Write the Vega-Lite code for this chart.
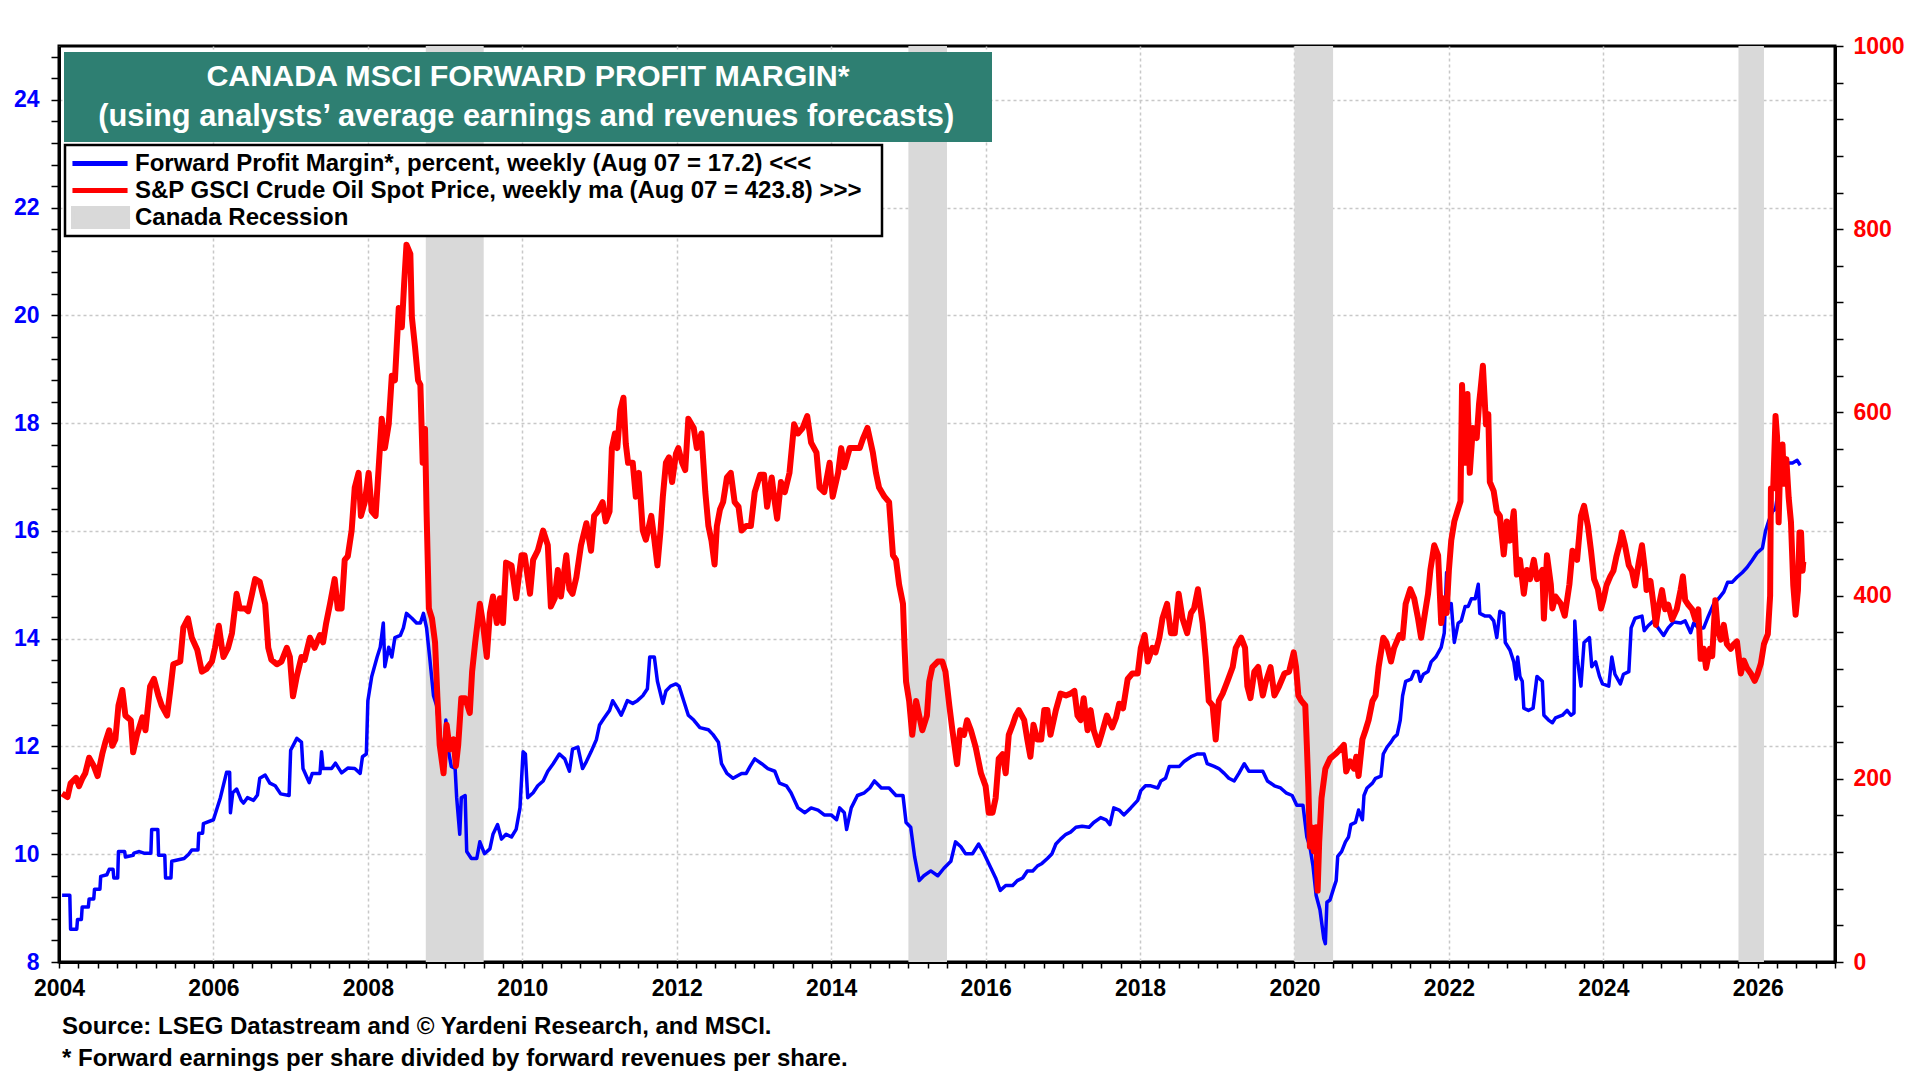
{
  "$schema": "https://vega.github.io/schema/vega-lite/v6.json",
  "width": 1776,
  "height": 916,
  "autosize": {"type": "none"},
  "padding": {"left": 59, "top": 46, "right": 85, "bottom": 118},
  "background": "white",
  "config": {
    "font": "Liberation Sans",
    "view": {"stroke": "black", "strokeWidth": 3}
  },
  "title": {
    "text": "Source: LSEG Datastream and © Yardeni Research, and MSCI.",
    "subtitle": "* Forward earnings per share divided by forward revenues per share.",
    "orient": "bottom",
    "anchor": "start",
    "frame": "group",
    "dx": 3,
    "offset": 15,
    "fontSize": 24,
    "fontWeight": "bold",
    "color": "black",
    "subtitleFontSize": 24,
    "subtitleFontWeight": "bold",
    "subtitleColor": "black",
    "subtitlePadding": 8
  },
  "datasets": {
    "rec": [
      {"t": 2008.75, "t2": 2009.5},
      {"t": 2015.0, "t2": 2015.5},
      {"t": 2020.0, "t2": 2020.5},
      {"t": 2025.75, "t2": 2026.08}
    ],
    "pm": [
      {"t": 2004.04, "v": 9.24}, {"t": 2004.14, "v": 9.24}, {"t": 2004.15, "v": 8.61}, {"t": 2004.23, "v": 8.61},
      {"t": 2004.24, "v": 8.79}, {"t": 2004.29, "v": 8.79}, {"t": 2004.30, "v": 9.02}, {"t": 2004.38, "v": 9.02},
      {"t": 2004.39, "v": 9.17}, {"t": 2004.45, "v": 9.17}, {"t": 2004.46, "v": 9.35}, {"t": 2004.53, "v": 9.35},
      {"t": 2004.54, "v": 9.59}, {"t": 2004.62, "v": 9.62}, {"t": 2004.65, "v": 9.72}, {"t": 2004.70, "v": 9.72},
      {"t": 2004.71, "v": 9.56}, {"t": 2004.76, "v": 9.56}, {"t": 2004.77, "v": 10.05}, {"t": 2004.85, "v": 10.05},
      {"t": 2004.86, "v": 9.95}, {"t": 2004.96, "v": 9.98}, {"t": 2004.97, "v": 10.02}, {"t": 2005.04, "v": 10.05},
      {"t": 2005.10, "v": 10.02}, {"t": 2005.19, "v": 10.02}, {"t": 2005.20, "v": 10.46}, {"t": 2005.28, "v": 10.46},
      {"t": 2005.29, "v": 9.98}, {"t": 2005.37, "v": 9.98}, {"t": 2005.38, "v": 9.56}, {"t": 2005.45, "v": 9.56},
      {"t": 2005.46, "v": 9.87}, {"t": 2005.62, "v": 9.92}, {"t": 2005.68, "v": 10.0}, {"t": 2005.72, "v": 10.08},
      {"t": 2005.80, "v": 10.08}, {"t": 2005.81, "v": 10.39}, {"t": 2005.86, "v": 10.39}, {"t": 2005.87, "v": 10.57},
      {"t": 2006.0, "v": 10.64}, {"t": 2006.09, "v": 11.05}, {"t": 2006.17, "v": 11.52}, {"t": 2006.21, "v": 11.52},
      {"t": 2006.22, "v": 10.77}, {"t": 2006.25, "v": 11.14}, {"t": 2006.30, "v": 11.21}, {"t": 2006.36, "v": 11.0},
      {"t": 2006.39, "v": 10.95}, {"t": 2006.44, "v": 11.05}, {"t": 2006.52, "v": 11.0}, {"t": 2006.57, "v": 11.1},
      {"t": 2006.60, "v": 11.41}, {"t": 2006.67, "v": 11.47}, {"t": 2006.73, "v": 11.32}, {"t": 2006.80, "v": 11.27},
      {"t": 2006.87, "v": 11.12}, {"t": 2006.98, "v": 11.09}, {"t": 2007.0, "v": 11.93}, {"t": 2007.08, "v": 12.15},
      {"t": 2007.14, "v": 12.08}, {"t": 2007.16, "v": 11.59}, {"t": 2007.24, "v": 11.33}, {"t": 2007.28, "v": 11.5},
      {"t": 2007.38, "v": 11.5}, {"t": 2007.40, "v": 11.9}, {"t": 2007.42, "v": 11.59}, {"t": 2007.53, "v": 11.59},
      {"t": 2007.58, "v": 11.69}, {"t": 2007.66, "v": 11.51}, {"t": 2007.74, "v": 11.6}, {"t": 2007.83, "v": 11.59},
      {"t": 2007.90, "v": 11.5}, {"t": 2007.93, "v": 11.81}, {"t": 2007.98, "v": 11.86},
      {"t": 2008.0, "v": 12.85}, {"t": 2008.05, "v": 13.30}, {"t": 2008.12, "v": 13.66}, {"t": 2008.16, "v": 13.84},
      {"t": 2008.2, "v": 14.29}, {"t": 2008.22, "v": 13.48}, {"t": 2008.27, "v": 13.84}, {"t": 2008.31, "v": 13.66},
      {"t": 2008.35, "v": 14.02}, {"t": 2008.42, "v": 14.06}, {"t": 2008.46, "v": 14.20}, {"t": 2008.5, "v": 14.47},
      {"t": 2008.57, "v": 14.38}, {"t": 2008.63, "v": 14.29}, {"t": 2008.68, "v": 14.29}, {"t": 2008.72, "v": 14.47},
      {"t": 2008.76, "v": 14.20}, {"t": 2008.80, "v": 13.66}, {"t": 2008.85, "v": 12.94}, {"t": 2008.89, "v": 12.76},
      {"t": 2008.93, "v": 12.22}, {"t": 2008.98, "v": 11.86}, {"t": 2009.01, "v": 12.49}, {"t": 2009.04, "v": 11.95},
      {"t": 2009.08, "v": 11.63}, {"t": 2009.13, "v": 11.59}, {"t": 2009.15, "v": 11.05}, {"t": 2009.19, "v": 10.37},
      {"t": 2009.21, "v": 11.05}, {"t": 2009.26, "v": 11.09}, {"t": 2009.28, "v": 10.05}, {"t": 2009.34, "v": 9.92},
      {"t": 2009.41, "v": 9.92}, {"t": 2009.45, "v": 10.23}, {"t": 2009.51, "v": 10.01}, {"t": 2009.58, "v": 10.10},
      {"t": 2009.62, "v": 10.37}, {"t": 2009.68, "v": 10.55}, {"t": 2009.73, "v": 10.28}, {"t": 2009.79, "v": 10.37},
      {"t": 2009.86, "v": 10.32}, {"t": 2009.92, "v": 10.46}, {"t": 2009.97, "v": 10.86}, {"t": 2010.01, "v": 11.9},
      {"t": 2010.04, "v": 11.86}, {"t": 2010.07, "v": 11.05}, {"t": 2010.14, "v": 11.14}, {"t": 2010.20, "v": 11.27},
      {"t": 2010.27, "v": 11.36}, {"t": 2010.33, "v": 11.54}, {"t": 2010.40, "v": 11.68}, {"t": 2010.48, "v": 11.86},
      {"t": 2010.55, "v": 11.77}, {"t": 2010.61, "v": 11.54}, {"t": 2010.65, "v": 11.95}, {"t": 2010.72, "v": 11.99},
      {"t": 2010.78, "v": 11.59}, {"t": 2010.83, "v": 11.72}, {"t": 2010.89, "v": 11.90}, {"t": 2010.96, "v": 12.13},
      {"t": 2011.0, "v": 12.40}, {"t": 2011.06, "v": 12.53}, {"t": 2011.13, "v": 12.67}, {"t": 2011.17, "v": 12.85},
      {"t": 2011.23, "v": 12.71}, {"t": 2011.28, "v": 12.58}, {"t": 2011.32, "v": 12.71}, {"t": 2011.36, "v": 12.85},
      {"t": 2011.43, "v": 12.80}, {"t": 2011.49, "v": 12.85}, {"t": 2011.56, "v": 12.94}, {"t": 2011.62, "v": 13.07},
      {"t": 2011.65, "v": 13.66}, {"t": 2011.71, "v": 13.66}, {"t": 2011.75, "v": 13.21}, {"t": 2011.82, "v": 12.80},
      {"t": 2011.86, "v": 13.03}, {"t": 2011.92, "v": 13.12}, {"t": 2011.99, "v": 13.16},
      {"t": 2012.03, "v": 13.12}, {"t": 2012.09, "v": 12.85}, {"t": 2012.15, "v": 12.58}, {"t": 2012.22, "v": 12.49},
      {"t": 2012.30, "v": 12.35}, {"t": 2012.41, "v": 12.31}, {"t": 2012.47, "v": 12.22}, {"t": 2012.54, "v": 12.08},
      {"t": 2012.58, "v": 11.68}, {"t": 2012.65, "v": 11.50}, {"t": 2012.73, "v": 11.41}, {"t": 2012.84, "v": 11.50},
      {"t": 2012.90, "v": 11.50}, {"t": 2012.95, "v": 11.63}, {"t": 2013.01, "v": 11.77}, {"t": 2013.10, "v": 11.68},
      {"t": 2013.18, "v": 11.59}, {"t": 2013.27, "v": 11.54}, {"t": 2013.33, "v": 11.32}, {"t": 2013.42, "v": 11.27},
      {"t": 2013.48, "v": 11.14}, {"t": 2013.57, "v": 10.86}, {"t": 2013.66, "v": 10.77}, {"t": 2013.74, "v": 10.86},
      {"t": 2013.83, "v": 10.82}, {"t": 2013.91, "v": 10.73}, {"t": 2014.0, "v": 10.73}, {"t": 2014.07, "v": 10.64},
      {"t": 2014.11, "v": 10.86}, {"t": 2014.17, "v": 10.77}, {"t": 2014.2, "v": 10.46}, {"t": 2014.26, "v": 10.86},
      {"t": 2014.34, "v": 11.09}, {"t": 2014.43, "v": 11.14}, {"t": 2014.50, "v": 11.23}, {"t": 2014.56, "v": 11.36},
      {"t": 2014.65, "v": 11.23}, {"t": 2014.75, "v": 11.23}, {"t": 2014.84, "v": 11.09}, {"t": 2014.93, "v": 11.09},
      {"t": 2014.97, "v": 10.59}, {"t": 2015.03, "v": 10.50}, {"t": 2015.08, "v": 9.96}, {"t": 2015.14, "v": 9.51},
      {"t": 2015.20, "v": 9.60}, {"t": 2015.29, "v": 9.69}, {"t": 2015.38, "v": 9.60}, {"t": 2015.46, "v": 9.74},
      {"t": 2015.55, "v": 9.87}, {"t": 2015.61, "v": 10.23}, {"t": 2015.68, "v": 10.14}, {"t": 2015.74, "v": 10.01},
      {"t": 2015.83, "v": 10.01}, {"t": 2015.91, "v": 10.19}, {"t": 2015.98, "v": 10.01},
      {"t": 2016.07, "v": 9.74}, {"t": 2016.13, "v": 9.56}, {"t": 2016.19, "v": 9.33}, {"t": 2016.26, "v": 9.42},
      {"t": 2016.35, "v": 9.42}, {"t": 2016.41, "v": 9.51}, {"t": 2016.48, "v": 9.56}, {"t": 2016.54, "v": 9.69},
      {"t": 2016.61, "v": 9.69}, {"t": 2016.67, "v": 9.78}, {"t": 2016.73, "v": 9.83}, {"t": 2016.80, "v": 9.92},
      {"t": 2016.86, "v": 10.01}, {"t": 2016.91, "v": 10.19}, {"t": 2016.97, "v": 10.28}, {"t": 2017.04, "v": 10.37},
      {"t": 2017.10, "v": 10.41}, {"t": 2017.17, "v": 10.50}, {"t": 2017.25, "v": 10.52}, {"t": 2017.34, "v": 10.50},
      {"t": 2017.40, "v": 10.59}, {"t": 2017.49, "v": 10.68}, {"t": 2017.56, "v": 10.64}, {"t": 2017.61, "v": 10.55},
      {"t": 2017.66, "v": 10.86}, {"t": 2017.73, "v": 10.82}, {"t": 2017.79, "v": 10.73}, {"t": 2017.88, "v": 10.86},
      {"t": 2017.97, "v": 11.0}, {"t": 2018.01, "v": 11.18}, {"t": 2018.07, "v": 11.27}, {"t": 2018.14, "v": 11.27},
      {"t": 2018.23, "v": 11.23}, {"t": 2018.27, "v": 11.36}, {"t": 2018.33, "v": 11.41}, {"t": 2018.38, "v": 11.63},
      {"t": 2018.44, "v": 11.63}, {"t": 2018.51, "v": 11.63}, {"t": 2018.57, "v": 11.72}, {"t": 2018.66, "v": 11.81},
      {"t": 2018.74, "v": 11.86}, {"t": 2018.83, "v": 11.86}, {"t": 2018.87, "v": 11.68}, {"t": 2018.96, "v": 11.63},
      {"t": 2019.02, "v": 11.59}, {"t": 2019.09, "v": 11.50}, {"t": 2019.15, "v": 11.41}, {"t": 2019.22, "v": 11.36},
      {"t": 2019.28, "v": 11.50}, {"t": 2019.35, "v": 11.68}, {"t": 2019.41, "v": 11.54}, {"t": 2019.48, "v": 11.54},
      {"t": 2019.59, "v": 11.54}, {"t": 2019.65, "v": 11.36}, {"t": 2019.74, "v": 11.27}, {"t": 2019.82, "v": 11.23},
      {"t": 2019.89, "v": 11.14}, {"t": 2019.97, "v": 11.09},
      {"t": 2020.03, "v": 10.91}, {"t": 2020.11, "v": 10.91}, {"t": 2020.16, "v": 10.32}, {"t": 2020.20, "v": 10.14},
      {"t": 2020.24, "v": 9.78}, {"t": 2020.28, "v": 9.24}, {"t": 2020.33, "v": 8.97}, {"t": 2020.38, "v": 8.43},
      {"t": 2020.40, "v": 8.34}, {"t": 2020.42, "v": 9.11}, {"t": 2020.46, "v": 9.15}, {"t": 2020.51, "v": 9.38},
      {"t": 2020.54, "v": 9.51}, {"t": 2020.56, "v": 9.96}, {"t": 2020.61, "v": 10.05}, {"t": 2020.66, "v": 10.23},
      {"t": 2020.70, "v": 10.32}, {"t": 2020.73, "v": 10.55}, {"t": 2020.79, "v": 10.59}, {"t": 2020.83, "v": 10.82},
      {"t": 2020.88, "v": 10.64}, {"t": 2020.90, "v": 11.09}, {"t": 2020.94, "v": 11.23}, {"t": 2021.01, "v": 11.32},
      {"t": 2021.05, "v": 11.41}, {"t": 2021.12, "v": 11.45}, {"t": 2021.15, "v": 11.86}, {"t": 2021.20, "v": 11.99},
      {"t": 2021.25, "v": 12.08}, {"t": 2021.29, "v": 12.17}, {"t": 2021.33, "v": 12.22}, {"t": 2021.37, "v": 12.49},
      {"t": 2021.40, "v": 12.94}, {"t": 2021.44, "v": 13.21}, {"t": 2021.51, "v": 13.25}, {"t": 2021.55, "v": 13.39},
      {"t": 2021.60, "v": 13.39}, {"t": 2021.63, "v": 13.21}, {"t": 2021.67, "v": 13.34}, {"t": 2021.73, "v": 13.39},
      {"t": 2021.77, "v": 13.57}, {"t": 2021.83, "v": 13.66}, {"t": 2021.90, "v": 13.84}, {"t": 2021.94, "v": 14.11},
      {"t": 2021.97, "v": 15.23}, {"t": 2022.0, "v": 14.56}, {"t": 2022.03, "v": 14.65}, {"t": 2022.07, "v": 13.93},
      {"t": 2022.12, "v": 14.29}, {"t": 2022.16, "v": 14.33}, {"t": 2022.21, "v": 14.60}, {"t": 2022.25, "v": 14.60},
      {"t": 2022.29, "v": 14.74}, {"t": 2022.34, "v": 14.74}, {"t": 2022.38, "v": 15.01}, {"t": 2022.40, "v": 14.47},
      {"t": 2022.47, "v": 14.42}, {"t": 2022.53, "v": 14.42}, {"t": 2022.58, "v": 14.33}, {"t": 2022.62, "v": 14.02},
      {"t": 2022.66, "v": 14.51}, {"t": 2022.71, "v": 14.47}, {"t": 2022.73, "v": 13.93}, {"t": 2022.79, "v": 13.79},
      {"t": 2022.84, "v": 13.57}, {"t": 2022.87, "v": 13.25}, {"t": 2022.89, "v": 13.66}, {"t": 2022.92, "v": 13.30},
      {"t": 2022.95, "v": 13.21}, {"t": 2022.97, "v": 12.71}, {"t": 2023.03, "v": 12.67}, {"t": 2023.09, "v": 12.71},
      {"t": 2023.14, "v": 13.30}, {"t": 2023.21, "v": 13.21}, {"t": 2023.23, "v": 12.58}, {"t": 2023.29, "v": 12.49},
      {"t": 2023.34, "v": 12.44}, {"t": 2023.38, "v": 12.53}, {"t": 2023.47, "v": 12.58}, {"t": 2023.53, "v": 12.67},
      {"t": 2023.58, "v": 12.58}, {"t": 2023.62, "v": 12.62}, {"t": 2023.63, "v": 14.33}, {"t": 2023.66, "v": 13.66},
      {"t": 2023.71, "v": 13.12}, {"t": 2023.75, "v": 13.93}, {"t": 2023.82, "v": 14.02}, {"t": 2023.85, "v": 13.48},
      {"t": 2023.90, "v": 13.57}, {"t": 2023.95, "v": 13.30}, {"t": 2023.99, "v": 13.16},
      {"t": 2024.07, "v": 13.12}, {"t": 2024.11, "v": 13.66}, {"t": 2024.15, "v": 13.34}, {"t": 2024.22, "v": 13.16},
      {"t": 2024.26, "v": 13.34}, {"t": 2024.33, "v": 13.39}, {"t": 2024.36, "v": 14.2}, {"t": 2024.41, "v": 14.38},
      {"t": 2024.5, "v": 14.42}, {"t": 2024.53, "v": 14.15}, {"t": 2024.58, "v": 14.24}, {"t": 2024.65, "v": 14.33},
      {"t": 2024.71, "v": 14.2}, {"t": 2024.78, "v": 14.06}, {"t": 2024.84, "v": 14.2}, {"t": 2024.91, "v": 14.31},
      {"t": 2025.0, "v": 14.29}, {"t": 2025.06, "v": 14.33}, {"t": 2025.13, "v": 14.11}, {"t": 2025.17, "v": 14.29},
      {"t": 2025.23, "v": 14.2}, {"t": 2025.3, "v": 14.2}, {"t": 2025.36, "v": 14.42}, {"t": 2025.43, "v": 14.65},
      {"t": 2025.49, "v": 14.74}, {"t": 2025.56, "v": 14.87}, {"t": 2025.61, "v": 15.05}, {"t": 2025.67, "v": 15.05},
      {"t": 2025.73, "v": 15.14}, {"t": 2025.8, "v": 15.23}, {"t": 2025.86, "v": 15.32}, {"t": 2025.93, "v": 15.46},
      {"t": 2025.99, "v": 15.59}, {"t": 2026.06, "v": 15.68}, {"t": 2026.1, "v": 16.0}, {"t": 2026.14, "v": 16.18},
      {"t": 2026.19, "v": 16.36}, {"t": 2026.23, "v": 16.41}, {"t": 2026.27, "v": 16.81}, {"t": 2026.34, "v": 17.08},
      {"t": 2026.38, "v": 17.26}, {"t": 2026.45, "v": 17.26}, {"t": 2026.51, "v": 17.31}, {"t": 2026.55, "v": 17.22}
    ],
    "oil": [
      {"t": 2004.04, "v": 184}, {"t": 2004.11, "v": 180}, {"t": 2004.15, "v": 195}, {"t": 2004.22, "v": 201},
      {"t": 2004.26, "v": 192}, {"t": 2004.30, "v": 200}, {"t": 2004.34, "v": 206}, {"t": 2004.39, "v": 223},
      {"t": 2004.45, "v": 214}, {"t": 2004.50, "v": 203}, {"t": 2004.56, "v": 227}, {"t": 2004.60, "v": 240},
      {"t": 2004.65, "v": 253}, {"t": 2004.69, "v": 236}, {"t": 2004.73, "v": 243}, {"t": 2004.77, "v": 280},
      {"t": 2004.82, "v": 297}, {"t": 2004.86, "v": 269}, {"t": 2004.93, "v": 264}, {"t": 2004.96, "v": 229},
      {"t": 2005.01, "v": 248}, {"t": 2005.08, "v": 267}, {"t": 2005.12, "v": 253}, {"t": 2005.18, "v": 301},
      {"t": 2005.23, "v": 309}, {"t": 2005.29, "v": 290}, {"t": 2005.33, "v": 280}, {"t": 2005.40, "v": 269},
      {"t": 2005.44, "v": 296}, {"t": 2005.48, "v": 325}, {"t": 2005.57, "v": 328}, {"t": 2005.61, "v": 365},
      {"t": 2005.67, "v": 375}, {"t": 2005.72, "v": 354}, {"t": 2005.79, "v": 341}, {"t": 2005.85, "v": 317},
      {"t": 2005.91, "v": 320}, {"t": 2005.98, "v": 328}, {"t": 2006.02, "v": 343}, {"t": 2006.07, "v": 367},
      {"t": 2006.11, "v": 343}, {"t": 2006.13, "v": 333}, {"t": 2006.19, "v": 343}, {"t": 2006.24, "v": 359},
      {"t": 2006.30, "v": 402}, {"t": 2006.34, "v": 386}, {"t": 2006.41, "v": 386}, {"t": 2006.45, "v": 383},
      {"t": 2006.50, "v": 402}, {"t": 2006.54, "v": 418}, {"t": 2006.60, "v": 415}, {"t": 2006.67, "v": 391},
      {"t": 2006.71, "v": 343}, {"t": 2006.75, "v": 330}, {"t": 2006.82, "v": 325}, {"t": 2006.88, "v": 328},
      {"t": 2006.95, "v": 343}, {"t": 2006.99, "v": 333}, {"t": 2007.03, "v": 290}, {"t": 2007.08, "v": 312},
      {"t": 2007.14, "v": 333}, {"t": 2007.18, "v": 330}, {"t": 2007.25, "v": 354}, {"t": 2007.31, "v": 343},
      {"t": 2007.38, "v": 357}, {"t": 2007.42, "v": 349}, {"t": 2007.46, "v": 370}, {"t": 2007.51, "v": 391},
      {"t": 2007.57, "v": 418}, {"t": 2007.61, "v": 386}, {"t": 2007.66, "v": 386}, {"t": 2007.70, "v": 439},
      {"t": 2007.74, "v": 443}, {"t": 2007.79, "v": 471}, {"t": 2007.83, "v": 518}, {"t": 2007.88, "v": 534},
      {"t": 2007.91, "v": 487}, {"t": 2007.96, "v": 502},
      {"t": 2008.01, "v": 534}, {"t": 2008.05, "v": 492}, {"t": 2008.10, "v": 487}, {"t": 2008.14, "v": 540},
      {"t": 2008.18, "v": 593}, {"t": 2008.22, "v": 561}, {"t": 2008.27, "v": 587}, {"t": 2008.31, "v": 640},
      {"t": 2008.35, "v": 635}, {"t": 2008.40, "v": 714}, {"t": 2008.44, "v": 693}, {"t": 2008.47, "v": 741},
      {"t": 2008.50, "v": 783}, {"t": 2008.55, "v": 773}, {"t": 2008.57, "v": 704}, {"t": 2008.61, "v": 672},
      {"t": 2008.65, "v": 635}, {"t": 2008.68, "v": 630}, {"t": 2008.71, "v": 545}, {"t": 2008.74, "v": 582},
      {"t": 2008.76, "v": 492}, {"t": 2008.79, "v": 386}, {"t": 2008.83, "v": 375}, {"t": 2008.87, "v": 349},
      {"t": 2008.90, "v": 290}, {"t": 2008.93, "v": 237}, {"t": 2008.98, "v": 206}, {"t": 2009.02, "v": 259},
      {"t": 2009.06, "v": 232}, {"t": 2009.11, "v": 243}, {"t": 2009.14, "v": 214}, {"t": 2009.17, "v": 237},
      {"t": 2009.21, "v": 288}, {"t": 2009.26, "v": 288}, {"t": 2009.32, "v": 272}, {"t": 2009.35, "v": 317},
      {"t": 2009.39, "v": 349}, {"t": 2009.45, "v": 391}, {"t": 2009.49, "v": 370}, {"t": 2009.54, "v": 333},
      {"t": 2009.58, "v": 381}, {"t": 2009.62, "v": 399}, {"t": 2009.67, "v": 370}, {"t": 2009.71, "v": 397},
      {"t": 2009.75, "v": 370}, {"t": 2009.79, "v": 436}, {"t": 2009.86, "v": 433}, {"t": 2009.92, "v": 397},
      {"t": 2009.99, "v": 444}, {"t": 2010.03, "v": 444}, {"t": 2010.10, "v": 402}, {"t": 2010.14, "v": 439},
      {"t": 2010.20, "v": 449}, {"t": 2010.27, "v": 471}, {"t": 2010.33, "v": 455}, {"t": 2010.37, "v": 388},
      {"t": 2010.42, "v": 397}, {"t": 2010.46, "v": 428}, {"t": 2010.50, "v": 399}, {"t": 2010.57, "v": 444},
      {"t": 2010.61, "v": 407}, {"t": 2010.65, "v": 402}, {"t": 2010.70, "v": 420}, {"t": 2010.76, "v": 455},
      {"t": 2010.83, "v": 479}, {"t": 2010.89, "v": 449}, {"t": 2010.93, "v": 487}, {"t": 2010.98, "v": 492},
      {"t": 2011.04, "v": 502}, {"t": 2011.08, "v": 481}, {"t": 2011.13, "v": 492}, {"t": 2011.16, "v": 561},
      {"t": 2011.20, "v": 577}, {"t": 2011.23, "v": 561}, {"t": 2011.27, "v": 603}, {"t": 2011.31, "v": 616},
      {"t": 2011.34, "v": 566}, {"t": 2011.37, "v": 545}, {"t": 2011.43, "v": 545}, {"t": 2011.47, "v": 508},
      {"t": 2011.51, "v": 534}, {"t": 2011.56, "v": 471}, {"t": 2011.60, "v": 461}, {"t": 2011.67, "v": 487},
      {"t": 2011.71, "v": 461}, {"t": 2011.75, "v": 433}, {"t": 2011.79, "v": 471}, {"t": 2011.82, "v": 508},
      {"t": 2011.86, "v": 545}, {"t": 2011.90, "v": 551}, {"t": 2011.94, "v": 524}, {"t": 2011.99, "v": 555},
      {"t": 2012.02, "v": 561}, {"t": 2012.07, "v": 545}, {"t": 2012.11, "v": 537}, {"t": 2012.15, "v": 593},
      {"t": 2012.22, "v": 583}, {"t": 2012.26, "v": 561}, {"t": 2012.32, "v": 577}, {"t": 2012.37, "v": 513},
      {"t": 2012.41, "v": 476}, {"t": 2012.45, "v": 460}, {"t": 2012.49, "v": 434}, {"t": 2012.52, "v": 476},
      {"t": 2012.56, "v": 494}, {"t": 2012.60, "v": 502}, {"t": 2012.65, "v": 529}, {"t": 2012.70, "v": 534},
      {"t": 2012.75, "v": 502}, {"t": 2012.80, "v": 497}, {"t": 2012.84, "v": 471}, {"t": 2012.90, "v": 476},
      {"t": 2012.96, "v": 476}, {"t": 2013.01, "v": 513}, {"t": 2013.08, "v": 532}, {"t": 2013.13, "v": 532},
      {"t": 2013.17, "v": 497}, {"t": 2013.23, "v": 529}, {"t": 2013.27, "v": 502}, {"t": 2013.30, "v": 484},
      {"t": 2013.35, "v": 524}, {"t": 2013.40, "v": 513}, {"t": 2013.46, "v": 534}, {"t": 2013.52, "v": 587},
      {"t": 2013.57, "v": 577}, {"t": 2013.63, "v": 583}, {"t": 2013.69, "v": 596}, {"t": 2013.74, "v": 567},
      {"t": 2013.81, "v": 556}, {"t": 2013.85, "v": 518}, {"t": 2013.91, "v": 513}, {"t": 2013.98, "v": 545},
      {"t": 2014.02, "v": 508}, {"t": 2014.09, "v": 534}, {"t": 2014.13, "v": 561}, {"t": 2014.17, "v": 540},
      {"t": 2014.24, "v": 561}, {"t": 2014.30, "v": 561}, {"t": 2014.37, "v": 561}, {"t": 2014.41, "v": 571},
      {"t": 2014.47, "v": 583}, {"t": 2014.54, "v": 556}, {"t": 2014.58, "v": 534}, {"t": 2014.62, "v": 518},
      {"t": 2014.69, "v": 508}, {"t": 2014.75, "v": 502}, {"t": 2014.80, "v": 444}, {"t": 2014.84, "v": 439},
      {"t": 2014.88, "v": 412}, {"t": 2014.93, "v": 391}, {"t": 2014.95, "v": 344}, {"t": 2014.97, "v": 306},
      {"t": 2015.01, "v": 285}, {"t": 2015.05, "v": 248}, {"t": 2015.10, "v": 285}, {"t": 2015.14, "v": 269},
      {"t": 2015.18, "v": 253}, {"t": 2015.24, "v": 269}, {"t": 2015.27, "v": 306}, {"t": 2015.31, "v": 322},
      {"t": 2015.38, "v": 328}, {"t": 2015.44, "v": 328}, {"t": 2015.48, "v": 317}, {"t": 2015.53, "v": 280},
      {"t": 2015.57, "v": 253}, {"t": 2015.63, "v": 216}, {"t": 2015.67, "v": 253}, {"t": 2015.72, "v": 248},
      {"t": 2015.76, "v": 264}, {"t": 2015.81, "v": 253}, {"t": 2015.87, "v": 235}, {"t": 2015.94, "v": 206},
      {"t": 2016.0, "v": 192}, {"t": 2016.04, "v": 163}, {"t": 2016.09, "v": 163}, {"t": 2016.13, "v": 179},
      {"t": 2016.17, "v": 222}, {"t": 2016.22, "v": 227}, {"t": 2016.26, "v": 206}, {"t": 2016.30, "v": 248},
      {"t": 2016.35, "v": 259}, {"t": 2016.39, "v": 269}, {"t": 2016.43, "v": 275}, {"t": 2016.50, "v": 264},
      {"t": 2016.54, "v": 243}, {"t": 2016.58, "v": 224}, {"t": 2016.62, "v": 259}, {"t": 2016.67, "v": 243},
      {"t": 2016.72, "v": 243}, {"t": 2016.76, "v": 275}, {"t": 2016.80, "v": 275}, {"t": 2016.84, "v": 248},
      {"t": 2016.91, "v": 275}, {"t": 2016.97, "v": 293}, {"t": 2017.04, "v": 291}, {"t": 2017.10, "v": 293},
      {"t": 2017.15, "v": 296}, {"t": 2017.19, "v": 269}, {"t": 2017.23, "v": 264}, {"t": 2017.27, "v": 288},
      {"t": 2017.32, "v": 253}, {"t": 2017.36, "v": 275}, {"t": 2017.40, "v": 253}, {"t": 2017.46, "v": 237},
      {"t": 2017.51, "v": 251}, {"t": 2017.57, "v": 269}, {"t": 2017.64, "v": 256}, {"t": 2017.69, "v": 267},
      {"t": 2017.73, "v": 282}, {"t": 2017.78, "v": 277}, {"t": 2017.84, "v": 309}, {"t": 2017.90, "v": 315},
      {"t": 2017.97, "v": 315}, {"t": 2018.01, "v": 343}, {"t": 2018.06, "v": 357}, {"t": 2018.10, "v": 328},
      {"t": 2018.16, "v": 343}, {"t": 2018.20, "v": 338}, {"t": 2018.25, "v": 354}, {"t": 2018.29, "v": 375},
      {"t": 2018.35, "v": 391}, {"t": 2018.40, "v": 359}, {"t": 2018.45, "v": 359}, {"t": 2018.50, "v": 402},
      {"t": 2018.55, "v": 375}, {"t": 2018.61, "v": 359}, {"t": 2018.66, "v": 381}, {"t": 2018.70, "v": 386},
      {"t": 2018.75, "v": 407}, {"t": 2018.81, "v": 370}, {"t": 2018.85, "v": 333}, {"t": 2018.89, "v": 285},
      {"t": 2018.94, "v": 280}, {"t": 2018.98, "v": 243}, {"t": 2019.02, "v": 285}, {"t": 2019.07, "v": 293},
      {"t": 2019.13, "v": 306}, {"t": 2019.20, "v": 322}, {"t": 2019.24, "v": 343}, {"t": 2019.31, "v": 354},
      {"t": 2019.36, "v": 343}, {"t": 2019.39, "v": 301}, {"t": 2019.43, "v": 288}, {"t": 2019.48, "v": 317},
      {"t": 2019.53, "v": 322}, {"t": 2019.59, "v": 291}, {"t": 2019.63, "v": 306}, {"t": 2019.69, "v": 322},
      {"t": 2019.74, "v": 291}, {"t": 2019.80, "v": 301}, {"t": 2019.87, "v": 315}, {"t": 2019.93, "v": 317},
      {"t": 2019.99, "v": 338}, {"t": 2020.02, "v": 322}, {"t": 2020.05, "v": 291}, {"t": 2020.09, "v": 285},
      {"t": 2020.14, "v": 280}, {"t": 2020.16, "v": 237}, {"t": 2020.18, "v": 190}, {"t": 2020.20, "v": 126},
      {"t": 2020.22, "v": 147}, {"t": 2020.25, "v": 121}, {"t": 2020.28, "v": 147}, {"t": 2020.30, "v": 78},
      {"t": 2020.32, "v": 131}, {"t": 2020.35, "v": 179}, {"t": 2020.40, "v": 211}, {"t": 2020.46, "v": 222},
      {"t": 2020.53, "v": 227}, {"t": 2020.59, "v": 232}, {"t": 2020.64, "v": 237}, {"t": 2020.67, "v": 208},
      {"t": 2020.72, "v": 219}, {"t": 2020.77, "v": 211}, {"t": 2020.80, "v": 224}, {"t": 2020.83, "v": 203},
      {"t": 2020.88, "v": 243}, {"t": 2020.92, "v": 253}, {"t": 2020.96, "v": 264}, {"t": 2021.01, "v": 285},
      {"t": 2021.05, "v": 291}, {"t": 2021.09, "v": 322}, {"t": 2021.15, "v": 354}, {"t": 2021.19, "v": 349},
      {"t": 2021.25, "v": 328}, {"t": 2021.29, "v": 343}, {"t": 2021.36, "v": 357}, {"t": 2021.40, "v": 354},
      {"t": 2021.44, "v": 391}, {"t": 2021.50, "v": 407}, {"t": 2021.55, "v": 397}, {"t": 2021.60, "v": 375},
      {"t": 2021.64, "v": 354}, {"t": 2021.69, "v": 381}, {"t": 2021.73, "v": 402}, {"t": 2021.76, "v": 428},
      {"t": 2021.81, "v": 455}, {"t": 2021.86, "v": 444}, {"t": 2021.90, "v": 370}, {"t": 2021.94, "v": 397},
      {"t": 2021.97, "v": 381}, {"t": 2022.0, "v": 428}, {"t": 2022.03, "v": 460}, {"t": 2022.07, "v": 481},
      {"t": 2022.12, "v": 495}, {"t": 2022.15, "v": 503}, {"t": 2022.17, "v": 630}, {"t": 2022.21, "v": 545},
      {"t": 2022.24, "v": 620}, {"t": 2022.27, "v": 534}, {"t": 2022.31, "v": 583}, {"t": 2022.36, "v": 572},
      {"t": 2022.39, "v": 609}, {"t": 2022.41, "v": 625}, {"t": 2022.44, "v": 651}, {"t": 2022.48, "v": 587},
      {"t": 2022.51, "v": 598}, {"t": 2022.53, "v": 524}, {"t": 2022.58, "v": 514}, {"t": 2022.62, "v": 492},
      {"t": 2022.66, "v": 487}, {"t": 2022.71, "v": 445}, {"t": 2022.75, "v": 481}, {"t": 2022.79, "v": 460},
      {"t": 2022.84, "v": 492}, {"t": 2022.88, "v": 423}, {"t": 2022.92, "v": 439}, {"t": 2022.97, "v": 402},
      {"t": 2023.01, "v": 428}, {"t": 2023.05, "v": 418}, {"t": 2023.10, "v": 439}, {"t": 2023.14, "v": 418},
      {"t": 2023.21, "v": 428}, {"t": 2023.23, "v": 375}, {"t": 2023.27, "v": 444}, {"t": 2023.32, "v": 412},
      {"t": 2023.34, "v": 386}, {"t": 2023.38, "v": 399}, {"t": 2023.45, "v": 391}, {"t": 2023.50, "v": 378},
      {"t": 2023.56, "v": 412}, {"t": 2023.60, "v": 449}, {"t": 2023.66, "v": 439}, {"t": 2023.71, "v": 487},
      {"t": 2023.75, "v": 498}, {"t": 2023.80, "v": 476}, {"t": 2023.84, "v": 449}, {"t": 2023.88, "v": 418},
      {"t": 2023.93, "v": 407}, {"t": 2023.97, "v": 386}, {"t": 2024.0, "v": 395}, {"t": 2024.04, "v": 411},
      {"t": 2024.09, "v": 421}, {"t": 2024.13, "v": 427}, {"t": 2024.17, "v": 443}, {"t": 2024.22, "v": 459},
      {"t": 2024.24, "v": 469}, {"t": 2024.28, "v": 455}, {"t": 2024.33, "v": 433}, {"t": 2024.37, "v": 427},
      {"t": 2024.41, "v": 411}, {"t": 2024.46, "v": 437}, {"t": 2024.50, "v": 455}, {"t": 2024.54, "v": 427},
      {"t": 2024.56, "v": 406}, {"t": 2024.61, "v": 416}, {"t": 2024.65, "v": 390}, {"t": 2024.68, "v": 368},
      {"t": 2024.71, "v": 385}, {"t": 2024.76, "v": 406}, {"t": 2024.80, "v": 385}, {"t": 2024.84, "v": 390},
      {"t": 2024.89, "v": 374}, {"t": 2024.95, "v": 385}, {"t": 2025.0, "v": 406}, {"t": 2025.03, "v": 421},
      {"t": 2025.06, "v": 395}, {"t": 2025.10, "v": 390}, {"t": 2025.15, "v": 385}, {"t": 2025.19, "v": 374},
      {"t": 2025.23, "v": 385}, {"t": 2025.26, "v": 331}, {"t": 2025.30, "v": 342}, {"t": 2025.33, "v": 321},
      {"t": 2025.38, "v": 342}, {"t": 2025.41, "v": 334}, {"t": 2025.45, "v": 395}, {"t": 2025.48, "v": 363},
      {"t": 2025.52, "v": 352}, {"t": 2025.56, "v": 368}, {"t": 2025.60, "v": 347}, {"t": 2025.65, "v": 342},
      {"t": 2025.69, "v": 347}, {"t": 2025.73, "v": 350}, {"t": 2025.78, "v": 315}, {"t": 2025.82, "v": 329},
      {"t": 2025.86, "v": 321}, {"t": 2025.91, "v": 315}, {"t": 2025.96, "v": 307}, {"t": 2026.0, "v": 315},
      {"t": 2026.04, "v": 326}, {"t": 2026.08, "v": 347}, {"t": 2026.13, "v": 358}, {"t": 2026.16, "v": 400},
      {"t": 2026.17, "v": 517}, {"t": 2026.20, "v": 517}, {"t": 2026.23, "v": 596}, {"t": 2026.25, "v": 573},
      {"t": 2026.27, "v": 480}, {"t": 2026.29, "v": 543}, {"t": 2026.32, "v": 565}, {"t": 2026.34, "v": 522},
      {"t": 2026.37, "v": 549}, {"t": 2026.40, "v": 507}, {"t": 2026.43, "v": 480}, {"t": 2026.46, "v": 411},
      {"t": 2026.49, "v": 379}, {"t": 2026.52, "v": 406}, {"t": 2026.54, "v": 469}, {"t": 2026.56, "v": 469},
      {"t": 2026.58, "v": 427}, {"t": 2026.59, "v": 437}
    ]
  },
  "encoding": {
    "x": {
      "field": "t",
      "type": "quantitative",
      "scale": {"domain": [2004, 2027], "nice": false, "zero": false},
      "axis": {
        "title": null,
        "values": [2004, 2004.25, 2004.5, 2004.75, 2005, 2005.25, 2005.5, 2005.75, 2006, 2006.25, 2006.5, 2006.75, 2007, 2007.25, 2007.5, 2007.75, 2008, 2008.25, 2008.5, 2008.75, 2009, 2009.25, 2009.5, 2009.75, 2010, 2010.25, 2010.5, 2010.75, 2011, 2011.25, 2011.5, 2011.75, 2012, 2012.25, 2012.5, 2012.75, 2013, 2013.25, 2013.5, 2013.75, 2014, 2014.25, 2014.5, 2014.75, 2015, 2015.25, 2015.5, 2015.75, 2016, 2016.25, 2016.5, 2016.75, 2017, 2017.25, 2017.5, 2017.75, 2018, 2018.25, 2018.5, 2018.75, 2019, 2019.25, 2019.5, 2019.75, 2020, 2020.25, 2020.5, 2020.75, 2021, 2021.25, 2021.5, 2021.75, 2022, 2022.25, 2022.5, 2022.75, 2023, 2023.25, 2023.5, 2023.75, 2024, 2024.25, 2024.5, 2024.75, 2025, 2025.25, 2025.5, 2025.75, 2026, 2026.25, 2026.5, 2026.75, 2027],
        "labelExpr": "datum.value % 2 === 0 ? format(datum.value, 'd') : ''",
        "labelFlush": false,
        "labelOverlap": false,
        "labelFontSize": 23,
        "labelFontWeight": "bold",
        "labelColor": "black",
        "labelPadding": 9,
        "tickColor": "black",
        "tickWidth": 1.5,
        "tickSize": 6,
        "domainColor": "black",
        "domainWidth": 3,
        "grid": true,
        "gridColor": "#c8c8c8",
        "gridDash": [3, 3],
        "gridWidth": 1.5,
        "gridOpacity": {"condition": {"test": "datum.value % 2 === 0", "value": 1}, "value": 0}
      }
    }
  },
  "layer": [
    {
      "data": {"name": "rec"},
      "mark": {"type": "rect", "color": "#d9d9d9"},
      "encoding": {
        "x2": {"field": "t2"},
        "color": {
          "datum": "Canada Recession",
          "type": "nominal",
          "scale": {
            "domain": [
              "Forward Profit Margin*, percent, weekly (Aug 07 = 17.2) <<<",
              "S&P GSCI Crude Oil Spot Price, weekly ma (Aug 07 = 423.8) >>>",
              "Canada Recession"
            ],
            "range": ["#0000ff", "#ff0000", "#d9d9d9"]
          },
          "legend": {
            "orient": "none",
            "legendX": 6,
            "legendY": 99,
            "title": null,
            "fillColor": "white",
            "strokeColor": "black",
            "padding": 6,
            "labelFontSize": 24,
            "labelFontWeight": "bold",
            "labelColor": "black",
            "labelLimit": 2000,
            "labelExpr": "datum.label + '\u00a0\u00a0\u200b'",
            "symbolType": "M-2.9,0H2.9",
            "symbolSize": 361,
            "symbolStrokeWidth": 5,
            "symbolOffset": 17,
            "labelOffset": 23,
            "clipHeight": 25,
            "rowPadding": 2,
            "encode": {
              "legend": {"update": {"strokeWidth": {"value": 2.5}}},
              "symbols": {
                "update": {
                  "shape": {"signal": "datum.value === 'Canada Recession' ? 'M-2.9,-0.95H2.9V0.95H-2.9Z' : 'M-2.9,0H2.9'"},
                  "fill": {"signal": "datum.value === 'Canada Recession' ? '#d9d9d9' : 'transparent'"},
                  "stroke": {"signal": "datum.value === 'Canada Recession' ? 'transparent' : (indexof(datum.value, 'Forward') === 0 ? '#0000ff' : '#ff0000')"},
                  "opacity": {"value": 1}
                }
              }
            }
          }
        },
        "opacity": {
          "datum": "(using analysts’ average earnings and revenues forecasts)",
          "type": "ordinal",
          "scale": {"type": "ordinal", "domain": ["(using analysts’ average earnings and revenues forecasts)"], "range": [1]},
          "legend": {
            "orient": "none",
            "legendX": 5,
            "legendY": 6,
            "title": "CANADA MSCI FORWARD PROFIT MARGIN*",
            "titleColor": "white",
            "titleFontSize": 30.4,
            "titleFontWeight": "bold",
            "titleAnchor": "middle",
            "titleAlign": "center",
            "titleLimit": 2000,
            "titlePadding": 9,
            "labelColor": "white",
            "labelFontSize": 30.8,
            "labelFontWeight": "bold",
            "labelLimit": 2000,
            "labelExpr": "datum.label + '\u00a0\u00a0\u00a0\u200b'",
            "symbolSize": 0,
            "symbolOpacity": 0,
            "symbolStrokeWidth": 0,
            "symbolOffset": 0,
            "labelOffset": -6.5,
            "fillColor": "#2e7f72",
            "padding": 10
          }
        }
      }
    },
    {
      "data": {"name": "pm"},
      "mark": {"type": "line", "strokeWidth": 3.5, "strokeJoin": "round"},
      "encoding": {
        "y": {
          "field": "v",
          "type": "quantitative",
          "scale": {"domain": [8, 25], "nice": false, "zero": false},
          "axis": {
            "orient": "left",
            "title": null,
            "values": [8, 8.4, 8.8, 9.2, 9.6, 10, 10.4, 10.8, 11.2, 11.6, 12, 12.4, 12.8, 13.2, 13.6, 14, 14.4, 14.8, 15.2, 15.6, 16, 16.4, 16.8, 17.2, 17.6, 18, 18.4, 18.8, 19.2, 19.6, 20, 20.4, 20.8, 21.2, 21.6, 22, 22.4, 22.8, 23.2, 23.6, 24, 24.4, 24.8],
            "labelExpr": "datum.value % 2 === 0 ? format(datum.value, 'd') : ''",
            "labelOverlap": false,
            "labelFontSize": 23,
            "labelFontWeight": "bold",
            "labelColor": "#0000ff",
            "labelPadding": 12,
            "tickColor": "black",
            "tickWidth": 1.5,
            "tickSize": 8,
            "domainColor": "black",
            "domainWidth": 3,
            "grid": true,
            "gridColor": "#c8c8c8",
            "gridDash": [3, 3],
            "gridWidth": 1.5,
            "gridOpacity": {"condition": {"test": "datum.value % 2 === 0", "value": 1}, "value": 0}
          }
        },
        "color": {"datum": "Forward Profit Margin*, percent, weekly (Aug 07 = 17.2) <<<", "type": "nominal"}
      }
    },
    {
      "data": {"name": "oil"},
      "mark": {"type": "line", "strokeWidth": 6, "strokeJoin": "round"},
      "encoding": {
        "y": {
          "field": "v",
          "type": "quantitative",
          "scale": {"domain": [0, 1000], "nice": false},
          "axis": {
            "orient": "right",
            "title": null,
            "values": [0, 40, 80, 120, 160, 200, 240, 280, 320, 360, 400, 440, 480, 520, 560, 600, 640, 680, 720, 760, 800, 840, 880, 920, 960, 1000],
            "labelExpr": "datum.value % 200 === 0 ? format(datum.value, 'd') : ''",
            "labelOverlap": false,
            "labelFontSize": 23,
            "labelFontWeight": "bold",
            "labelColor": "#ff0000",
            "labelPadding": 10,
            "tickColor": "black",
            "tickWidth": 1.5,
            "tickSize": 8,
            "domainColor": "black",
            "domainWidth": 3,
            "grid": false
          }
        },
        "color": {"datum": "S&P GSCI Crude Oil Spot Price, weekly ma (Aug 07 = 423.8) >>>", "type": "nominal"}
      }
    }
  ],
  "resolve": {"scale": {"y": "independent"}}
}
